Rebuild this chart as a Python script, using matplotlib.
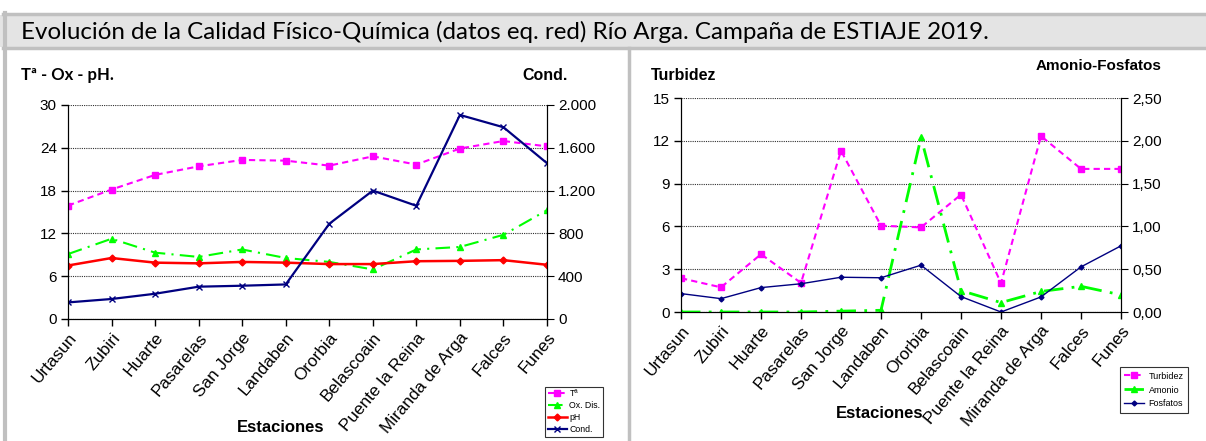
import matplotlib
matplotlib.use("Agg")
import matplotlib.pyplot as plt
from matplotlib.patches import Rectangle
from matplotlib.lines import Line2D

# Datos de las estaciones
estaciones = ["Urtasun", "Zubiri", "Huarte", "Pasarelas", "San Jorge", "Landaben",
              "Ororbia", "Belascoain", "Puente la Reina", "Miranda de Arga", "Falces", "Funes"]

temperatura = [15.9, 18.15, 20.2, 21.4, 22.3, 22.2, 21.5, 22.8, 21.65, 23.9, 24.95, 24.2]
oxigeno = [9.1, 11.25, 9.3, 8.7, 9.75, 8.55, 8.0, 6.95, 9.75, 10.1, 11.8, 15.25]
ph = [7.5, 8.55, 7.9, 7.8, 8.0, 7.9, 7.7, 7.7, 8.1, 8.15, 8.25, 7.6]
conductividad = [155, 187, 236, 302, 311, 323, 890, 1200, 1058, 1907, 1792, 1456]

turbidez = [2.37, 1.73, 4.05, 2.04, 11.3, 6.05, 5.93, 8.23, 2.02, 12.33, 10.03, 10.03]
amonio = [0.0, 0.0, 0.0, 0.0, 0.01, 0.02, 2.04, 0.25, 0.11, 0.24, 0.30, 0.20]
fosfatos = [0.215, 0.156, 0.285, 0.33, 0.406, 0.40, 0.547, 0.18, 0.0, 0.176, 0.527, 0.773]

W, H = 1206, 441
fig = plt.figure(figsize=(W / 100, H / 100), dpi=100)

def fx(px):
    return px / W

def fy(py):
    return 1 - py / H

# Marco y barra de titulo
gris = "#c0c0c0"
fig.patches.append(Rectangle((fx(0), fy(47)), 1, fy(15) - fy(47), transform=fig.transFigure,
                             facecolor="#e4e4e4", edgecolor="none"))
for y in [14, 48]:
    fig.add_artist(Line2D([fx(3), 1], [fy(y), fy(y)], color=gris, lw=2.5))
fig.add_artist(Line2D([fx(5), fx(5)], [fy(13), 0], color=gris, lw=3))
fig.add_artist(Line2D([fx(629), fx(629)], [fy(48), 0], color=gris, lw=2.5))

fig.text(fx(21), fy(32), "Evolución de la Calidad Físico-Química (datos eq. red) Río Arga. Campaña de ESTIAJE 2019.",
         fontsize=17.4, family="Lato", va="center", ha="left")

arial = "Liberation Sans"

def preparar(ax, ymax, step):
    x = list(range(len(estaciones)))
    ax.set_xlim(0, len(estaciones) - 1)
    ax.set_xticks(x)
    ax.set_xticklabels(estaciones, rotation=50, ha="right", rotation_mode="anchor",
                       fontsize=12.3, family=arial)
    ax.set_ylim(0, ymax)
    ax.set_yticks([i * step for i in range(int(round(ymax / step)) + 1)])
    ax.spines["top"].set_visible(False)
    ax.tick_params(axis="both", direction="out", length=5, width=1, pad=3)
    ax.tick_params(axis="y", labelsize=11)
    for lbl in ax.get_yticklabels():
        lbl.set_family(arial)
    ax.grid(axis="y", color="#303030", linestyle=(0, (1, 1)), lw=0.8)
    ax.set_axisbelow(True)
    return x

def formato_miles(v, pos):
    return f"{int(v):,}".replace(",", ".")

def formato_decimal(v, pos):
    return f"{v:.2f}".replace(".", ",")

def eje_derecho(ax):
    ax.spines["top"].set_visible(False)
    ax.tick_params(axis="y", direction="out", length=5, labelsize=11, pad=3)
    for lbl in ax.get_yticklabels():
        lbl.set_family(arial)

# ---------------- Panel izquierdo ----------------
ax1 = fig.add_axes([fx(68), fy(319), fx(547) - fx(68), fy(105) - fy(319)])
x = preparar(ax1, 30, 6)
ax2 = ax1.twinx()
ax2.set_ylim(0, 2000)
ax2.set_yticks([0, 400, 800, 1200, 1600, 2000])
ax2.yaxis.set_major_formatter(plt.FuncFormatter(formato_miles))
eje_derecho(ax2)

l1, = ax1.plot(x, temperatura, color="#ff00ff", ls=(0, (3, 2)), lw=1.5, marker="s", ms=5, label="Tª")
l2, = ax1.plot(x, oxigeno, color="#00ff00", ls=(0, (7, 3, 1, 3)), lw=1.5, marker="^", ms=5, label="Ox. Dis.")
l3, = ax1.plot(x, ph, color="#ff0000", ls="-", lw=1.8, marker="D", ms=3.5, label="pH")
l4, = ax2.plot(x, conductividad, color="#000080", ls="-", lw=1.6, marker="x", ms=4, mew=1, label="Cond.")

fig.text(fx(21), fy(75), "Tª - Ox - pH.", fontsize=12, weight="bold", family="Lato", va="center")
fig.text(fx(522), fy(75), "Cond.", fontsize=11.5, weight="bold", family=arial, va="center")
fig.text(fx(281), fy(428), "Estaciones", fontsize=12, weight="bold", family=arial, ha="center", va="center")

leg = fig.legend(handles=[l1, l2, l3, l4], loc="lower right", bbox_to_anchor=(fx(603), fy(437)),
                 borderaxespad=0, frameon=True, fancybox=False, handlelength=2.2,
                 borderpad=0.3, labelspacing=0.35, handletextpad=0.3,
                 prop={"family": arial, "size": 6.3})
leg.get_frame().set_edgecolor("black")
leg.get_frame().set_linewidth(0.8)

# ---------------- Panel derecho ----------------
ax3 = fig.add_axes([fx(681), fy(312), fx(1121) - fx(681), fy(98) - fy(312)])
x = preparar(ax3, 15, 3)
ax4 = ax3.twinx()
ax4.set_ylim(0, 2.5)
ax4.set_yticks([0, 0.5, 1.0, 1.5, 2.0, 2.5])
ax4.yaxis.set_major_formatter(plt.FuncFormatter(formato_decimal))
eje_derecho(ax4)

m1, = ax3.plot(x, turbidez, color="#ff00ff", ls=(0, (3, 2)), lw=1.5, marker="s", ms=5, label="Turbidez")
m2, = ax4.plot(x, amonio, color="#00ff00", ls=(0, (7, 3, 1, 3)), lw=2, marker="^", ms=5, label="Amonio")
m3, = ax4.plot(x, fosfatos, color="#000080", ls="-", lw=1, marker="D", ms=2.5, label="Fosfatos")

fig.text(fx(651), fy(75), "Turbidez", fontsize=11.5, weight="bold", family=arial, va="center")
fig.text(fx(1162), fy(66), "Amonio-Fosfatos", fontsize=11, weight="bold", family=arial, va="center", ha="right")
fig.text(fx(880), fy(414), "Estaciones", fontsize=12, weight="bold", family=arial, ha="center", va="center")

leg2 = fig.legend(handles=[m1, m2, m3], loc="lower right", bbox_to_anchor=(fx(1188), fy(413)),
                  borderaxespad=0, frameon=True, fancybox=False, handlelength=2.2,
                  borderpad=0.5, labelspacing=0.55, handletextpad=0.5,
                  prop={"family": arial, "size": 6.5})
leg2.get_frame().set_edgecolor("black")
leg2.get_frame().set_linewidth(0.8)

fig.savefig("out.png", dpi=100)
